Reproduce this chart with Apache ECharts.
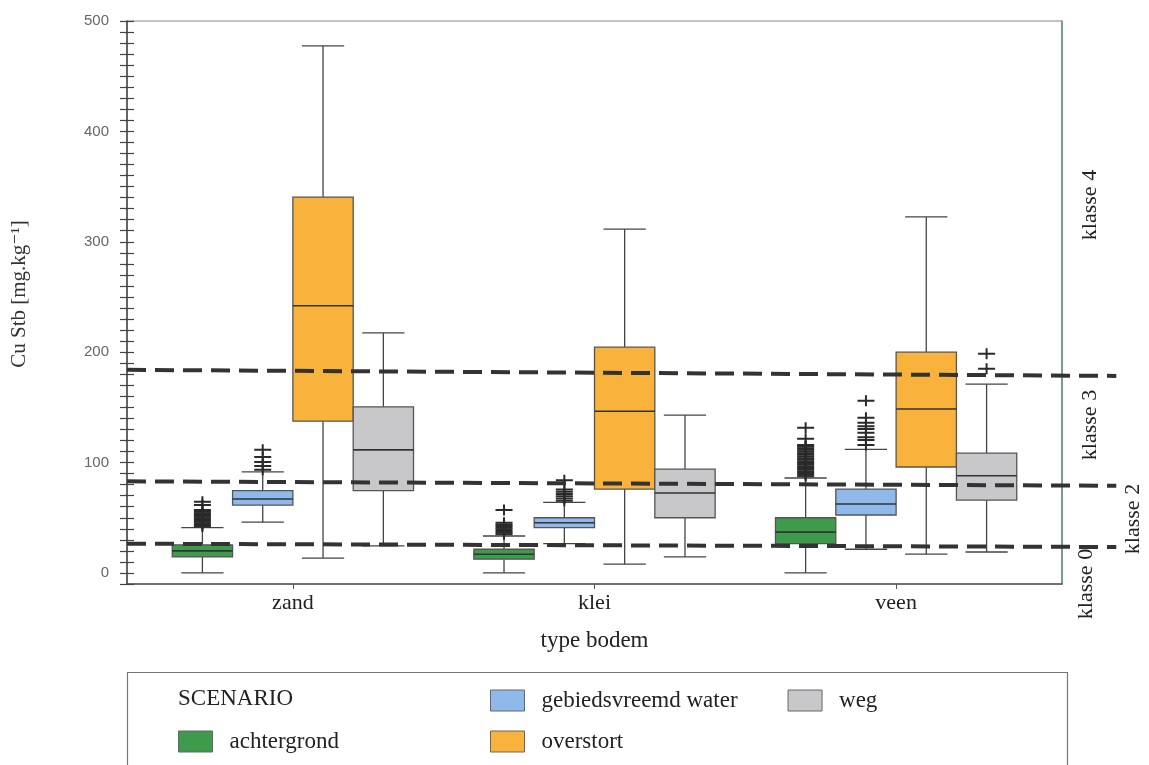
<!DOCTYPE html>
<html><head><meta charset="utf-8">
<script src="https://cdn.jsdelivr.net/npm/echarts@6/dist/echarts.min.js"></script>
<style>html,body{margin:0;padding:0;background:#fff}#c{width:1149px;height:765px}</style>
</head><body><div id="c"></div>
<script>
// ---------------- data ----------------
const categories = ['zand', 'klei', 'veen'];
const scenarios = ['achtergrond', 'gebiedsvreemd water', 'overstort', 'weg'];
const yTickLabels = [0, 100, 200, 300, 400, 500];
// [lower whisker, Q1, median, Q3, upper whisker] per category (zand, klei, veen)
const achtergrond        = [[0, 14.5, 20, 25.5, 41],      [0, 12.5, 17, 21.5, 33.5],     [0, 26.5, 37, 50, 86]];
const gebiedsvreemdWater = [[46, 61.5, 67, 74.5, 91.5],   [26.5, 41, 45.5, 50, 64],      [21.5, 52.5, 62.5, 76, 112]];
const overstort          = [[13.5, 137.5, 242, 340.5, 477.5], [8, 76, 146.5, 204.5, 311.5], [17, 96, 148.5, 200, 322.5]];
const weg                = [[24.5, 74.5, 111.5, 150.5, 217.5], [14.5, 50, 72.5, 94, 143],  [19, 66, 88, 108.5, 171]];
// outliers per category
const achtergrondOutliers = [
  [42, 43.5, 45, 46.5, 48, 49.5, 51, 52.5, 54, 55.5, 57, 61.5, 64.5],
  [35, 36.5, 38, 39.5, 41, 42.5, 44, 45.5, 57],
  [87.5, 89, 90.5, 92, 93.5, 95, 96.5, 98, 99.5, 101, 102.5, 104, 105.5, 107, 108.5, 110, 111.5, 113, 114.5, 116, 121.5, 131.5]
];
const gebiedsvreemdWaterOutliers = [
  [93.5, 97, 100.5, 105, 111.5],
  [65.5, 67.5, 69.5, 71.5, 73.5, 75.5, 84],
  [116, 120.5, 123, 127, 130.5, 133, 136, 140.5, 156]
];
const overstortOutliers = [[], [], []];
const wegOutliers = [[], [], [185, 198.5]];
// class boundary lines (dashed): value at left end, value at right end (scan is slightly tilted)
const klasseLeft  = [184, 83, 26.5];
const klasseRight = [178.5, 79, 23.5];
const klasseLabels = ['klasse 4', 'klasse 3', 'klasse 2', 'klasse 0'];

// ---------------- layout / style ----------------
const colors = ['#3f9b4c', '#8fb9ea', '#f9b33c', '#c8c8cb'];
const OFFSETS = [-0.3, -0.1, 0.1, 0.3];
const BOX_W = 0.2, CAP_W = 0.14;
const X_MIN = -0.55, X_MAX = 2.55, LINE_END = 2.73;
const boxData = [achtergrond, gebiedsvreemdWater, overstort, weg];
const outData = [achtergrondOutliers, gebiedsvreemdWaterOutliers, overstortOutliers, wegOutliers];
const serif = '"Liberation Serif", "DejaVu Serif", serif';
const sans = '"Liberation Sans", Arial, sans-serif';

function renderBox(params, api) {
  const x = api.value(0);
  const lo = api.coord([x, api.value(1)]);
  const q1 = api.coord([x, api.value(2)]);
  const md = api.coord([x, api.value(3)]);
  const q3 = api.coord([x, api.value(4)]);
  const hi = api.coord([x, api.value(5)]);
  const w = api.size([BOX_W, 0])[0];
  const cw = api.size([CAP_W, 0])[0];
  const cx = q1[0];
  const color = api.visual('color');
  const ls = { stroke: '#444', lineWidth: 1.3 };
  return {
    type: 'group',
    children: [
      { type: 'line', shape: { x1: cx, y1: hi[1], x2: cx, y2: q3[1] }, style: ls },
      { type: 'line', shape: { x1: cx, y1: q1[1], x2: cx, y2: lo[1] }, style: ls },
      { type: 'line', shape: { x1: cx - cw / 2, y1: hi[1], x2: cx + cw / 2, y2: hi[1] }, style: ls },
      { type: 'line', shape: { x1: cx - cw / 2, y1: lo[1], x2: cx + cw / 2, y2: lo[1] }, style: ls },
      { type: 'rect', shape: { x: cx - w / 2, y: q3[1], width: w, height: q1[1] - q3[1] },
        style: { fill: color, stroke: '#555', lineWidth: 1.3 } },
      { type: 'line', shape: { x1: cx - w / 2, y1: md[1], x2: cx + w / 2, y2: md[1] },
        style: { stroke: '#333', lineWidth: 1.6 } }
    ]
  };
}

function renderDash(params, api) {
  const a = api.coord([api.value(0), api.value(1)]);
  const b = api.coord([api.value(2), api.value(3)]);
  return { type: 'line', shape: { x1: a[0], y1: a[1], x2: b[0], y2: b[1] },
    style: { stroke: '#333', lineWidth: 4, lineDash: [19, 9] } };
}

const series = [];
scenarios.forEach((name, s) => {
  series.push({
    name, type: 'custom', renderItem: renderBox, z: 2,
    itemStyle: { color: colors[s], borderColor: '#555', borderWidth: 1 },
    encode: { x: 0, y: [1, 2, 3, 4, 5] },
    data: categories.map((c, i) => [i + OFFSETS[s]].concat(boxData[s][i]))
  });
});
scenarios.forEach((name, s) => {
  const pts = [];
  categories.forEach((c, i) => outData[s][i].forEach(v => pts.push([i + OFFSETS[s], v])));
  series.push({
    name, type: 'scatter', z: 3, silent: true,
    symbol: 'path://M0,4.5H17V6.5H0Z M7.5,0H9.5V11H7.5Z', symbolSize: [17, 11],
    itemStyle: { color: '#2a2a2a', opacity: 1 },
    data: pts
  });
});
series.push({
  name: 'klasse', type: 'custom', renderItem: renderDash, z: 5, silent: true,
  encode: { x: [0, 2], y: [1, 3] },
  data: klasseLeft.map((v, k) => [X_MIN, v, LINE_END, klasseRight[k]])
});

const legendBase = {
  icon: 'rect', itemWidth: 34, itemHeight: 21, selectedMode: false, padding: 0,
  itemStyle: { borderColor: '#666', borderWidth: 1 },
  textStyle: { fontFamily: serif, fontSize: 23, color: '#222', padding: [0, 0, 0, 12] }
};
const rotText = (text, x, y) => ({ type: 'text', x, y, rotation: Math.PI / 2,
  style: { text, font: '22px ' + serif, fill: '#222', align: 'center', verticalAlign: 'middle' } });

const chart = echarts.init(document.getElementById('c'), null, { renderer: 'canvas' });
chart.setOption({
  backgroundColor: '#fff',
  animation: false,
  grid: { left: 127, right: 87, top: 21, bottom: 181, show: true, borderColor: '#888', borderWidth: 1 },
  xAxis: [{
    type: 'value', min: X_MIN, max: X_MAX,
    name: 'type bodem', nameLocation: 'middle', nameGap: 45,
    nameTextStyle: { fontFamily: serif, fontSize: 23, color: '#222' },
    axisLine: { show: true, onZero: false, lineStyle: { color: '#555', width: 1.5 } },
    splitLine: { show: false },
    axisTick: { show: true, customValues: [0, 1, 2], length: 5, lineStyle: { color: '#555' } },
    axisLabel: { customValues: [0, 1, 2], margin: 8, fontFamily: serif, fontSize: 22, color: '#222',
      formatter: v => categories[Math.round(v)] }
  }],
  yAxis: [{
    type: 'value', min: -10, max: 500, interval: 10, position: 'left',
    axisLine: { show: true, onZero: false, lineStyle: { color: '#444', width: 1.5 } },
    axisTick: { show: true, length: 7, lineStyle: { color: '#444', width: 1.2 } },
    splitLine: { show: false },
    axisLabel: { margin: 18, fontFamily: sans, fontSize: 15, color: '#666',
      formatter: v => (yTickLabels.indexOf(v) >= 0 ? String(v) : '') }
  }, {
    type: 'value', min: -10, max: 500, interval: 10, position: 'left',
    axisLine: { show: false, onZero: false },
    axisTick: { show: true, inside: true, length: 7, lineStyle: { color: '#444', width: 1.2 } },
    axisLabel: { show: false }, splitLine: { show: false }
  }, {
    type: 'value', min: -10, max: 500, position: 'right',
    axisLine: { show: true, onZero: false, lineStyle: { color: '#5a9084', width: 1.5 } },
    axisTick: { show: false }, axisLabel: { show: false }, splitLine: { show: false }
  }],
  legend: [
    Object.assign({}, legendBase, { data: ['gebiedsvreemd water', 'weg'], left: 490, top: 689, itemGap: 50 }),
    Object.assign({}, legendBase, { data: ['achtergrond'], left: 178, top: 730 }),
    Object.assign({}, legendBase, { data: ['overstort'], left: 490, top: 730 })
  ],
  graphic: [
    { type: 'rect', left: 125, top: 670, shape: { width: 940, height: 110 },
      style: { fill: 'none', stroke: '#777', lineWidth: 1.2 }, z: -1 },
    { type: 'text', left: 178, top: 687, style: { text: 'SCENARIO', font: '23px ' + serif, fill: '#222' } },
    { type: 'text', x: 19, y: 294, rotation: Math.PI / 2,
      style: { text: 'Cu Stb [mg.kg\u207B\u00B9]', font: '21px ' + serif, fill: '#333', align: 'center', verticalAlign: 'middle' } },
    rotText(klasseLabels[0], 1090, 205),
    rotText(klasseLabels[1], 1090, 425),
    rotText(klasseLabels[2], 1133, 519),
    rotText(klasseLabels[3], 1086, 584)
  ],
  series
});
</script></body></html>
